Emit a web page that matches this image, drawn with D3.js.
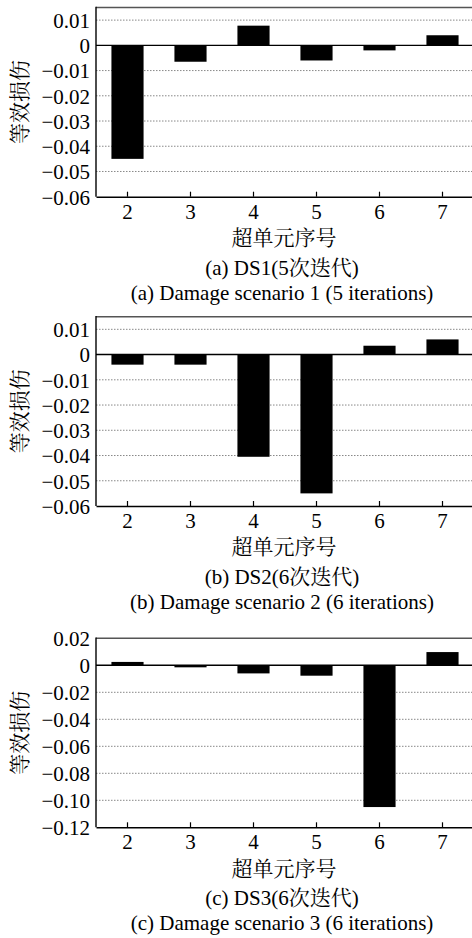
<!DOCTYPE html>
<html>
<head>
<meta charset="utf-8">
<script src="https://cdn.jsdelivr.net/npm/d3@7"></script>
<style>
  html, body { margin: 0; padding: 0; background: #fff; }
  svg { display: block; }
  text { font-family: "Liberation Serif", "Noto Serif CJK SC", "Noto Sans CJK SC", serif; fill: #000; }
  .cjk { font-family: "Liberation Serif", "Noto Serif CJK SC", "Noto Sans CJK SC", serif; }
</style>
</head>
<body>
<svg id="chart" width="472" height="938"></svg>
<script>
// ---- data ----
const categories = ["2", "3", "4", "5", "6", "7"];
const ds1Values = [-0.045, -0.0065, 0.0078, -0.006, -0.002, 0.004];
const ds2Values = [-0.004, -0.004, -0.0405, -0.055, 0.0035, 0.006];
const ds3Values = [0.0025, -0.0015, -0.006, -0.0077, -0.105, 0.0098];
const ticks12 = [0.01, 0, -0.01, -0.02, -0.03, -0.04, -0.05, -0.06];
const ticks3 = [0.02, 0, -0.02, -0.04, -0.06, -0.08, -0.10, -0.12];
const domain12 = [-0.06, 0.015];
const domain3 = [-0.12, 0.02];
const yLabel = "等效损伤";
const xLabel = "超单元序号";
const captionsCN = ["(a) DS1(5次迭代)", "(b) DS2(6次迭代)", "(c) DS3(6次迭代)"];
const captionsEN = ["(a) Damage scenario 1 (5 iterations)", "(b) Damage scenario 2 (6 iterations)", "(c) Damage scenario 3 (6 iterations)"];

// ---- layout ----
const left = 96, right = 474;
const panels = [
  { values: ds1Values, ticks: ticks12, domain: domain12, top: 7.5, bottom: 196.7, cn: captionsCN[0], en: captionsEN[0] },
  { values: ds2Values, ticks: ticks12, domain: domain12, top: 316.7, bottom: 506, cn: captionsCN[1], en: captionsEN[1] },
  { values: ds3Values, ticks: ticks3, domain: domain3, top: 638.3, bottom: 827.3, cn: captionsCN[2], en: captionsEN[2] }
];

const svg = d3.select("#chart");
const fs = 21;
const fmt = d => d === 0 ? "0" : d3.format(".2f")(d);
const cx = 284;

const x = d3.scaleBand().domain(categories).range([left, right]).paddingInner(0.49).paddingOuter(0.245);

panels.forEach(p => {
  const g = svg.append("g");
  const y = d3.scaleLinear().domain(p.domain).range([p.bottom, p.top]);

  // grid lines (dotted)
  g.selectAll("line.grid").data(p.ticks.filter(t => t !== 0 && t !== p.domain[0] && t !== p.domain[1]))
    .enter().append("line")
    .attr("x1", left).attr("x2", 472)
    .attr("y1", d => y(d)).attr("y2", d => y(d))
    .attr("stroke", "#888").attr("stroke-width", 1).attr("stroke-dasharray", "1.5,1.5");

  // bars
  g.selectAll("rect.bar").data(p.values).enter().append("rect")
    .attr("x", (d, i) => x(categories[i]))
    .attr("width", x.bandwidth())
    .attr("y", d => y(Math.max(0, d)))
    .attr("height", d => Math.abs(y(d) - y(0)))
    .attr("fill", "#000");

  // zero line
  g.append("line").attr("x1", left).attr("x2", 472).attr("y1", y(0)).attr("y2", y(0))
    .attr("stroke", "#000").attr("stroke-width", 1.4);

  // top border
  g.append("line").attr("x1", left).attr("x2", 472).attr("y1", p.top).attr("y2", p.top)
    .attr("stroke", "#555").attr("stroke-width", 1.6);

  // y axis
  const ya = d3.axisLeft(y).tickValues(p.ticks).tickFormat(fmt).tickSize(0).tickPadding(6);
  const yg = g.append("g").attr("transform", `translate(${left},0)`).call(ya);
  yg.select(".domain").remove();
  yg.selectAll("text").attr("font-size", fs).attr("font-family", "Liberation Serif").attr("dy", "0.35em").attr("x", -6);
  g.append("line").attr("x1", left).attr("x2", left).attr("y1", p.top - 0.8).attr("y2", p.bottom)
    .attr("stroke", "#000").attr("stroke-width", 1.4);

  // x axis
  const xa = d3.axisBottom(x).tickSizeInner(-5).tickSizeOuter(0).tickPadding(0);
  const xg = g.append("g").attr("transform", `translate(0,${p.bottom})`).call(xa);
  xg.select(".domain").attr("stroke-width", 1.4);
  xg.selectAll(".tick line").attr("stroke-width", 1.2);
  xg.selectAll("text").attr("font-size", fs).attr("font-family", "Liberation Serif")
    .attr("y", 14.5).attr("dy", "0.35em");

  // y label
  const ym = (p.top + p.bottom) / 2;
  g.append("text").attr("class", "cjk")
    .attr("transform", `translate(20,${ym}) rotate(-90)`)
    .attr("text-anchor", "middle").attr("dy", "0.35em")
    .attr("font-size", fs).attr("fill", "#222").text(yLabel);

  // x label & captions
  g.append("text").attr("class", "cjk").attr("x", cx).attr("y", p.bottom + 41)
    .attr("text-anchor", "middle").attr("dy", "0.35em").attr("font-size", fs).text(xLabel);
  g.append("text").attr("class", "cjk").attr("x", 282).attr("y", p.bottom + 70.7)
    .attr("text-anchor", "middle").attr("dy", "0.35em").attr("font-size", fs).text(p.cn);
  g.append("text").attr("x", 282).attr("y", p.bottom + 95.7)
    .attr("text-anchor", "middle").attr("dy", "0.35em").attr("font-size", fs).text(p.en);
});
</script>
</body>
</html>
